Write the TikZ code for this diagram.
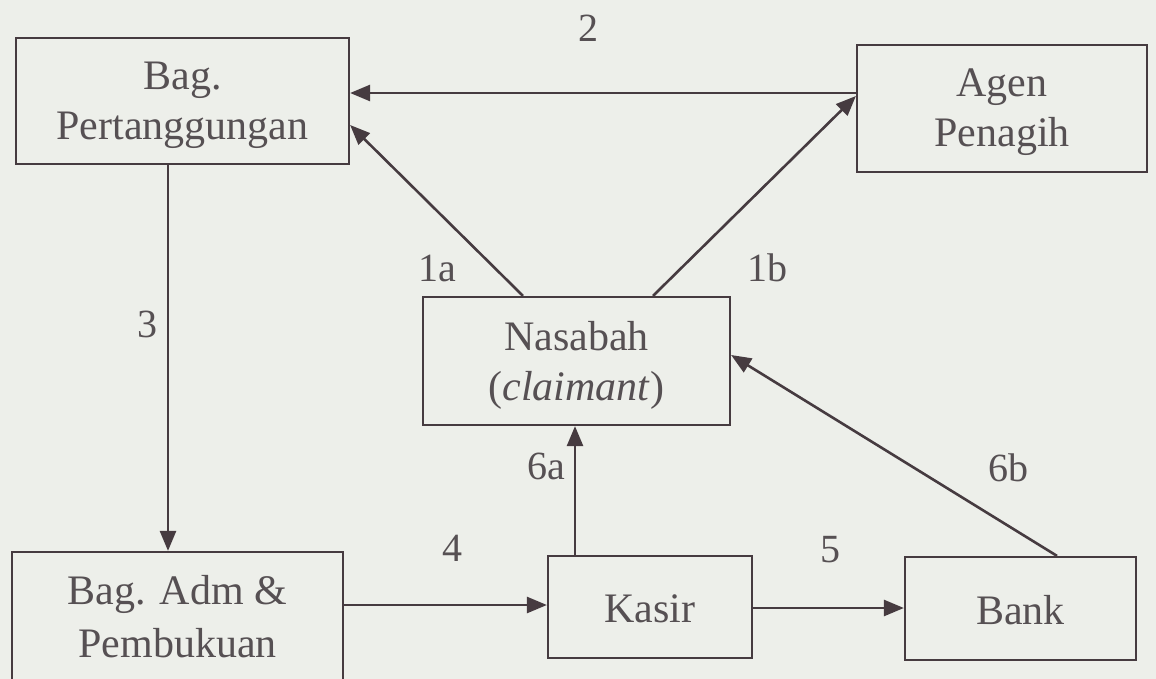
\documentclass[tikz,border=0pt]{standalone}
\usepackage{fontspec}
\setmainfont{Liberation Serif}
\usetikzlibrary{arrows.meta}
\definecolor{paper}{HTML}{EDEFEA}
\definecolor{ink}{HTML}{463B40}
\definecolor{txt}{HTML}{565053}
\tikzset{
  box/.style={draw=ink, line width=2.2pt, rectangle, inner sep=0pt},
  boxtext/.style={text=txt, align=center, inner sep=0pt,
    font=\fontsize{42}{50}\selectfont, yshift=-4pt},
  flow/.style={draw=ink, line width=2.6pt,
    -{Triangle[length=20pt, width=16pt]}},
  lbl/.style={text=txt, font=\fontsize{40}{48}\selectfont, inner sep=0pt}
}
\begin{document}
\begin{tikzpicture}[x=1pt, y=-1pt]
  \fill[paper] (0,0) rectangle (1156,679);
  \useasboundingbox (0,0) rectangle (1156,679);

  % units
  \node[box, minimum width=333pt, minimum height=126pt,
    label={[boxtext]center:{Bag.\\Pertanggungan}}] (pert) at (182.5,101) {};
  \node[box, minimum width=290pt, minimum height=127pt,
    label={[boxtext]center:{Agen\\Penagih}}] (agen) at (1002,108.5) {};
  \node[box, minimum width=307pt, minimum height=128pt,
    label={[boxtext]center:{Nasabah\\(\textit{claimant})}}] (nsb) at (576.5,361) {};
  \node[box, minimum width=331pt, minimum height=152pt,
    label={[boxtext, font=\fontsize{42}{53}\selectfont, yshift=15pt]center:{Bag. Adm \&\\Pembukuan}}] (adm) at (177.5,628) {};
  \node[box, minimum width=204pt, minimum height=102pt,
    label={[boxtext, yshift=2pt]center:{Kasir}}] (ksr) at (650,607) {};
  \node[box, minimum width=231pt, minimum height=103pt,
    label={[boxtext, yshift=2pt]center:{Bank}}] (bank) at (1020.5,608.5) {};

  % flows
  \draw[flow] (agen.west |- 0,93) -- (pert.east |- 0,93);
  \draw[flow] (nsb.north -| 523,0) -- (pert.east |- 0,125);
  \draw[flow] (nsb.north -| 653,0) -- (agen.west |- 0,96);
  \draw[flow] (pert.south -| 168,0) -- (adm.north -| 168,0);
  \draw[flow] (adm.east |- 0,605) -- (ksr.west |- 0,605);
  \draw[flow] (ksr.east |- 0,608) -- (bank.west |- 0,608);
  \draw[flow] (ksr.north -| 575,0) -- (nsb.south -| 575,0);
  \draw[flow] (bank.north -| 1057,0) -- (nsb.east |- 0,355);

  % step numbers
  \node[lbl] (l2)  at (588,28)  {2};
  \node[lbl] (l1a) at (437,268) {1a};
  \node[lbl] (l1b) at (767,268) {1b};
  \node[lbl] (l3)  at (147,324) {3};
  \node[lbl] (l4)  at (452,548) {4};
  \node[lbl] (l5)  at (830,550) {5};
  \node[lbl] (l6a) at (546,466) {6a};
  \node[lbl] (l6b) at (1008,468) {6b};
\end{tikzpicture}
\end{document}
